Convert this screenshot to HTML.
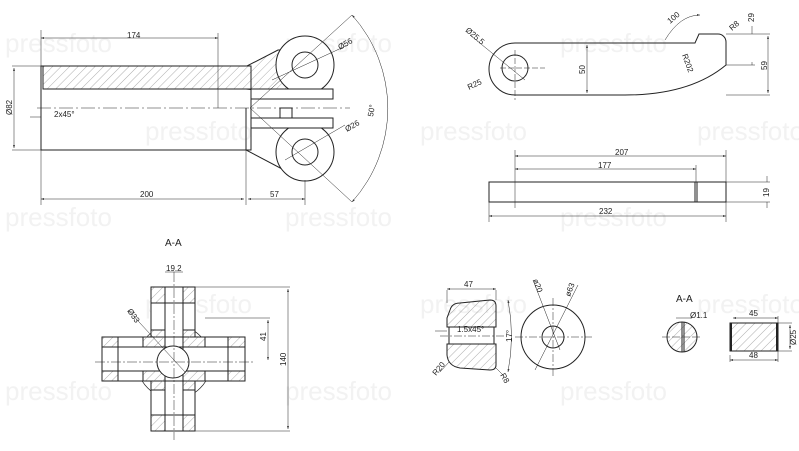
<!DOCTYPE html>
<html><head><meta charset="utf-8"><style>
html,body{margin:0;padding:0;background:#fff}
svg{display:block}
text{font-family:"Liberation Sans",sans-serif;font-size:8px;fill:#222}
.w{font-size:26px;fill:#f2f2f2}
</style></head><body>
<svg width="799" height="451" viewBox="0 0 799 451" xmlns="http://www.w3.org/2000/svg">
<defs>
<pattern id="h" width="6" height="6" patternUnits="userSpaceOnUse" patternTransform="rotate(45)">
<line x1="0" y1="0" x2="0" y2="6" stroke="#777" stroke-width="0.6"/></pattern>
<marker id="a" markerWidth="6" markerHeight="4" refX="6" refY="2" orient="auto-start-reverse"><path d="M0,0 L6,2 L0,4z" fill="#333"/></marker>
</defs>
<g class="w">
<text x="5" y="52" class="w">pressfoto</text><text x="285" y="52" class="w">pressfoto</text><text x="560" y="52" class="w">pressfoto</text>
<text x="145" y="140" class="w">pressfoto</text><text x="420" y="140" class="w">pressfoto</text><text x="697" y="140" class="w">pressfoto</text>
<text x="5" y="226" class="w">pressfoto</text><text x="285" y="226" class="w">pressfoto</text><text x="560" y="226" class="w">pressfoto</text>
<text x="145" y="313" class="w">pressfoto</text><text x="420" y="313" class="w">pressfoto</text><text x="697" y="313" class="w">pressfoto</text>
<text x="5" y="400" class="w">pressfoto</text><text x="285" y="400" class="w">pressfoto</text><text x="560" y="400" class="w">pressfoto</text>
</g>
<g fill="none" stroke="#222" stroke-width="1">
<path d="M41,66 H247 L278,50 A29,29 0 0 1 305,95 L246,89 H43 V66z" fill="url(#h)"/>
<rect x="41" y="66" width="210" height="84"/>
<path d="M43,89 H251 V108 M246,108 V150 L303,180"/>
<circle cx="305" cy="65" r="29" fill="#fff"/><circle cx="305" cy="65" r="13"/>
<circle cx="305" cy="152" r="29" fill="#fff"/><circle cx="305" cy="152" r="13"/>
<rect x="251" y="89" width="82" height="10" fill="#fff"/>
<rect x="251" y="118" width="82" height="10" fill="#fff"/>
<rect x="280" y="108" width="12" height="10" fill="#fff"/>
<path d="M37,108 H350" stroke-dasharray="14,3,2,3" stroke-width="0.5"/>
<g stroke-width="0.5">
<path d="M41,30 V66 M218,33 V108 M41,150 V205 M246,150 V205 M305,180 V205 M12,66 H41 M12,150 H41"/>
<path d="M41,38 H218" marker-start="url(#a)" marker-end="url(#a)"/>
<path d="M41,199 H244" marker-start="url(#a)" marker-end="url(#a)"/>
<path d="M248,199 H305" marker-start="url(#a)" marker-end="url(#a)"/>
<path d="M14,68 V148" marker-start="url(#a)" marker-end="url(#a)"/>
<path d="M30,117 H41"/>
<path d="M352,15 A140,140 0 0 1 352,202" marker-start="url(#a)" marker-end="url(#a)"/>
<path d="M250,108 L352,15 M250,108 L352,202"/>
<path d="M272,80 L348,45 M285,160 L345,125"/>
</g>
<path d="M515,43 H695 L699,34 H718 A8,8 0 0 1 726,42 V65 Q690,95 625,95 H515 A26,26 0 0 1 515,43z"/>
<circle cx="515" cy="68" r="13"/>
<g stroke-width="0.5">
<path d="M500,68 H545 M515,50 V100" stroke-dasharray="6,2"/>
<path d="M587,45 V93" marker-start="url(#a)" marker-end="url(#a)"/>
<path d="M726,34 H770 M726,65 H755 M726,95 H770"/>
<path d="M768,36 V93" marker-start="url(#a)" marker-end="url(#a)"/>
<path d="M752,26 V34 M752,65 V62"/>
<path d="M665,40 Q680,15 700,15" marker-end="url(#a)"/>
<path d="M470,35 L525,80"/>
</g>
<rect x="489" y="182" width="237" height="20"/>
<path d="M695,182 V202 M697,182 V202"/>
<g stroke-width="0.5">
<path d="M515,150 V208 M726,150 V182 M696,165 V182 M489,202 V222 M726,202 V222 M726,182 H770 M726,202 H770"/>
<path d="M515,156 H726" marker-start="url(#a)" marker-end="url(#a)"/>
<path d="M515,169 H696" marker-start="url(#a)" marker-end="url(#a)"/>
<path d="M489,216 H726" marker-start="url(#a)" marker-end="url(#a)"/>
<path d="M767,176 V182 M767,202 V208"/>
</g>
<g>
<circle cx="174" cy="362" r="37" stroke-width="0.7"/>
<rect x="151" y="287" width="44" height="144" fill="#fff"/>
<rect x="102" y="337" width="143" height="44" fill="#fff"/>
<rect x="151" y="287" width="14" height="16" fill="url(#h)"/><rect x="183" y="287" width="12" height="16" fill="url(#h)"/>
<rect x="151" y="415" width="14" height="16" fill="url(#h)"/><rect x="183" y="415" width="12" height="16" fill="url(#h)"/>
<rect x="102" y="337" width="16" height="10" fill="url(#h)"/><rect x="102" y="371" width="16" height="10" fill="url(#h)"/>
<rect x="228" y="337" width="17" height="10" fill="url(#h)"/><rect x="228" y="371" width="17" height="10" fill="url(#h)"/>
<path d="M151,330 H165 V347 H143 V337" fill="url(#h)"/>
<path d="M183,330 V347 H205 V337 H195 V330z" fill="url(#h)"/>
<path d="M143,371 H165 V390 H151 V381 H143z" fill="url(#h)"/>
<path d="M183,371 H205 V381 H195 V390 H183z" fill="url(#h)"/>
<path d="M165,287 V431 M183,287 V431 M102,347 H245 M102,371 H245 M165,303 H183 M165,415 H183 M118,347 V371 M228,347 V371"/>
<circle cx="173" cy="362" r="16" fill="#fff"/>
<g stroke-width="0.5">
<path d="M174,272 V440 M95,362 H255" stroke-dasharray="10,2,2,2"/>
<path d="M195,287 H290 M195,431 H290 M205,318 H270"/>
<path d="M288,289 V429" marker-start="url(#a)" marker-end="url(#a)"/>
<path d="M268,320 V360" marker-start="url(#a)" marker-end="url(#a)"/>
<path d="M165,272 H183 M128,310 L185,372"/>
</g>
</g>
<path d="M450,310 Q452,303 460,303 L490,300 Q496,300 496,306 V327 H447 V318z" fill="url(#h)"/>
<path d="M447,344 H496 V365 Q496,370 490,370 L460,368 Q448,366 447,355z" fill="url(#h)"/>
<path d="M449,327 V344 M494,327 V344"/>
<g stroke-width="0.5">
<path d="M440,336 H505" stroke-dasharray="8,2,2,2"/>
<path d="M447,290 V303 M496,290 V300"/>
<path d="M447,289 H496" marker-start="url(#a)" marker-end="url(#a)"/>
<path d="M508,300 Q515,336 508,372" marker-start="url(#a)" marker-end="url(#a)"/>
<path d="M440,372 L449,362 M504,376 L496,368 M435,331 H447"/>
</g>
<circle cx="553" cy="337" r="32"/><circle cx="553" cy="337" r="11"/>
<g stroke-width="0.5">
<path d="M515,337 H592 M553,298 V376" stroke-dasharray="8,2,2,2"/>
<path d="M533,280 L560,350 M578,285 L535,370"/>
</g>
<circle cx="682" cy="337" r="15" fill="url(#h)"/>
<path d="M682,322 V352 M684,322 V352"/>
<g stroke-width="0.5"><path d="M662,337 H700" stroke-dasharray="8,2"/><path d="M676,318 H692"/></g>
<rect x="730" y="323" width="48" height="28" fill="url(#h)"/>
<path d="M731,323 V351 M777,323 V351" stroke-width="2"/>
<g stroke-width="0.5">
<path d="M730,355 V362 M778,316 V362 M778,323 H792 M778,351 H792"/>
<path d="M733,318 H778" marker-start="url(#a)" marker-end="url(#a)"/>
<path d="M730,360 H778" marker-start="url(#a)" marker-end="url(#a)"/>
<path d="M790,325 V349" marker-start="url(#a)" marker-end="url(#a)"/>
</g>
</g>
<text x="127" y="38">174</text>
<text x="140" y="197">200</text>
<text x="270" y="197">57</text>
<text x="54" y="117">2x45°</text>
<text x="12" y="115" transform="rotate(-90 12 115)">Ø82</text>
<text x="340" y="50" transform="rotate(-30 340 50)">Ø56</text>
<text x="347" y="132" transform="rotate(-30 347 132)">Ø26</text>
<text x="373" y="117" transform="rotate(-80 373 117)">50°</text>
<text x="465" y="31" transform="rotate(40 465 31)">Ø25.5</text>
<text x="469" y="90" transform="rotate(-25 469 90)">R25</text>
<text x="585" y="74" transform="rotate(-90 585 74)">50</text>
<text x="670" y="24" transform="rotate(-40 670 24)">100</text>
<text x="732" y="31" transform="rotate(-40 732 31)">R8</text>
<text x="682" y="55" transform="rotate(70 682 55)">R202</text>
<text x="754" y="22" transform="rotate(-90 754 22)">29</text>
<text x="767" y="70" transform="rotate(-90 767 70)">59</text>
<text x="615" y="155">207</text>
<text x="598" y="168">177</text>
<text x="599" y="214">232</text>
<text x="769" y="197" transform="rotate(-90 769 197)">19</text>
<text x="165" y="246" style="font-size:10px">A-A</text>
<text x="166" y="271" font-size="7">19.2</text>
<text x="127" y="311" transform="rotate(55 127 311)">Ø33</text>
<text x="266" y="341" transform="rotate(-90 266 341)">41</text>
<text x="286" y="366" transform="rotate(-90 286 366)">140</text>
<text x="464" y="287">47</text>
<text x="457" y="332">1.5x45°</text>
<text x="512" y="342" transform="rotate(-90 512 342)">17°</text>
<text x="436" y="376" transform="rotate(-50 436 376)">R20</text>
<text x="500" y="375" transform="rotate(60 500 375)">R8</text>
<text x="533" y="280" transform="rotate(70 533 280)">ø20</text>
<text x="570" y="297" transform="rotate(-70 570 297)">ø63</text>
<text x="676" y="302" style="font-size:10px">A-A</text>
<text x="690" y="318">Ø1.1</text>
<text x="749" y="316">45</text>
<text x="749" y="358">48</text>
<text x="796" y="345" transform="rotate(-90 796 345)">Ø25</text>
</svg>
</body></html>
